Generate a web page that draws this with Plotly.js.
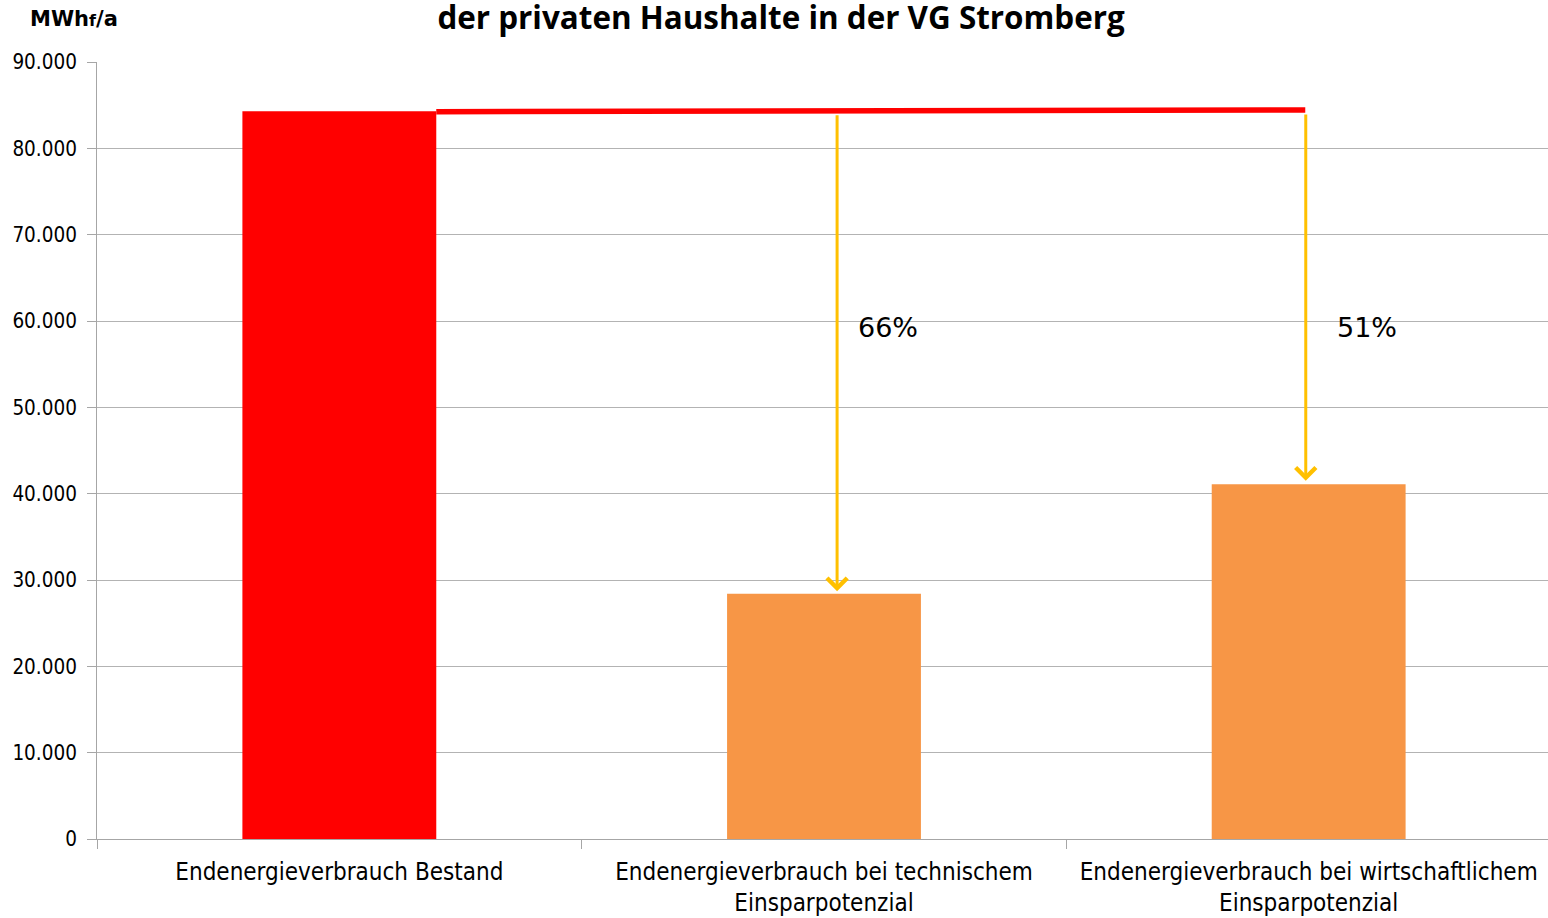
<!DOCTYPE html>
<html><head><meta charset="utf-8">
<script src="https://cdn.plot.ly/plotly-3.0.1.min.js"></script>
<style>html,body{margin:0;padding:0;background:#fff;overflow:hidden;} #chart{width:1551px;height:918px;}</style>
</head><body><div id="chart"></div>
<script>
const categories = ['Endenergieverbrauch Bestand', 'Endenergieverbrauch bei technischem<br>Einsparpotenzial', 'Endenergieverbrauch bei wirtschaftlichem<br>Einsparpotenzial'];
const values = [84300, 28400, 41100];
const barColors = ['#FF0000', '#F79646', '#F79646'];
const yTickVals = [0, 10000, 20000, 30000, 40000, 50000, 60000, 70000, 80000, 90000];
const refLineX = [0.2, 1.993];
const refLineY = [84250, 84450];
const arrowX = [1.027, 1.994];
const arrowFromY = [84000, 84100];
const arrowToY = [28700, 41500];
const pctLabels = ['66%', '51%'];
const pctX = [1.132, 2.12];
const pctY = [59200, 59200];
const titleText = 'der privaten Haushalte in der VG Stromberg';
const unitText = 'MWh<span style="font-size:16px">f</span>/a';

const tickFont = {family: 'DejaVu Sans Condensed, DejaVu Sans, sans-serif', size: 20.5, color: '#000'};
const catFont = {family: 'DejaVu Sans Condensed, DejaVu Sans, sans-serif', size: 24, color: '#000'};

const trace = {
  type: 'bar', x: categories, y: values,
  marker: {color: barColors, line: {width: 0}},
  hoverinfo: 'none'
};

const shapes = [{
  type: 'line', xref: 'x', yref: 'y',
  x0: refLineX[0], x1: refLineX[1], y0: refLineY[0], y1: refLineY[1],
  line: {color: '#FF0000', width: 5.5}
}];

const annotations = [];
for (let i = 0; i < arrowX.length; i++) {
  annotations.push({
    xref: 'x', yref: 'y', axref: 'x', ayref: 'y',
    x: arrowX[i], y: arrowToY[i], ax: arrowX[i], ay: arrowFromY[i],
    text: '', showarrow: true, arrowhead: 4, arrowsize: 1.3, arrowwidth: 3, arrowcolor: '#FFC000'
  });
}
for (let i = 0; i < pctLabels.length; i++) {
  annotations.push({
    xref: 'x', yref: 'y', x: pctX[i], y: pctY[i], text: pctLabels[i], showarrow: false,
    font: {family: 'DejaVu Sans, sans-serif', size: 27, color: '#000'}
  });
}
annotations.push({
  xref: 'paper', yref: 'paper', x: -0.0475, y: 1.0553, xanchor: 'left', yanchor: 'middle',
  text: unitText, showarrow: false,
  font: {family: 'DejaVu Sans, sans-serif', size: 21, color: '#000', weight: 700}
});

const layout = {
  width: 1551, height: 918,
  margin: {l: 97, r: 0, t: 62, b: 79},
  paper_bgcolor: '#fff', plot_bgcolor: '#fff',
  separators: ',.',
  showlegend: false,
  bargap: 0.6,
  title: {
    text: titleText, xref: 'container', yref: 'container', x: 0.5036, y: 0.9805,
    xanchor: 'center', yanchor: 'middle',
    font: {family: 'Open Sans, sans-serif', size: 31.4, color: '#000', weight: 700}
  },
  xaxis: {
    type: 'category', tickson: 'boundaries', ticks: 'outside', ticklen: 9, tickcolor: '#a6a6a6',
    showline: true, linecolor: '#a6a6a6', linewidth: 1, showgrid: false,
    tickfont: catFont, ticklabelstandoff: 11, fixedrange: true
  },
  yaxis: {
    range: [0, 90000], tickvals: yTickVals, tickformat: ',d',
    ticks: 'outside', ticklen: 9, tickcolor: '#a6a6a6',
    showline: true, linecolor: '#a6a6a6', linewidth: 1,
    showgrid: true, gridcolor: '#b3b3b3', gridwidth: 1, zeroline: false,
    tickfont: tickFont, ticklabelstandoff: 6, fixedrange: true
  },
  shapes: shapes,
  annotations: annotations
};

Plotly.newPlot('chart', [trace], layout, {displayModeBar: false, staticPlot: true});
</script></body></html>
